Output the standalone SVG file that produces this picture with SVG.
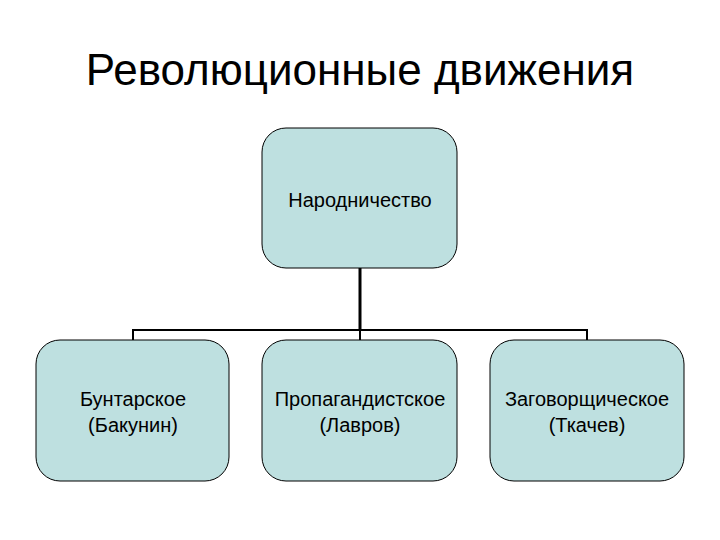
<svg xmlns="http://www.w3.org/2000/svg" width="720" height="540" viewBox="0 0 720 540">
<style>
.box{fill:#bee0e0;stroke:#000;stroke-width:1}
.t{font-family:"Liberation Sans",Arial,sans-serif;font-size:20px;fill:#000;text-anchor:middle}
.c{fill:none;stroke:#000;stroke-width:2}
</style>
<rect width="720" height="540" fill="#fff"/>
<text x="360" y="85" style="font-family:'Liberation Sans',Arial,sans-serif;font-size:44px;text-anchor:middle">Революционные движения</text>
<g id="connectors">
<line x1="360" y1="268" x2="360" y2="330" class="c" style="stroke-width:3"/>
<polyline class="c" points="133,340 133,330 587,330 587,340"/>
<line x1="360" y1="330" x2="360" y2="340" class="c"/>
</g>
<g id="n0"><rect class="box" x="262" y="128" width="195" height="140" rx="24"/><text class="t" x="360" y="207">Народничество</text></g>
<g id="n1"><rect class="box" x="36" y="340" width="193" height="141" rx="24"/><text class="t" x="133" y="406">Бунтарское</text><text class="t" x="133" y="432">(Бакунин)</text></g>
<g id="n2"><rect class="box" x="262" y="340" width="195" height="141" rx="24"/><text class="t" x="360" y="406">Пропагандистское</text><text class="t" x="360" y="432">(Лавров)</text></g>
<g id="n3"><rect class="box" x="490" y="340" width="194" height="141" rx="24"/><text class="t" x="587" y="406">Заговорщическое</text><text class="t" x="587" y="432">(Ткачев)</text></g>
</svg>
